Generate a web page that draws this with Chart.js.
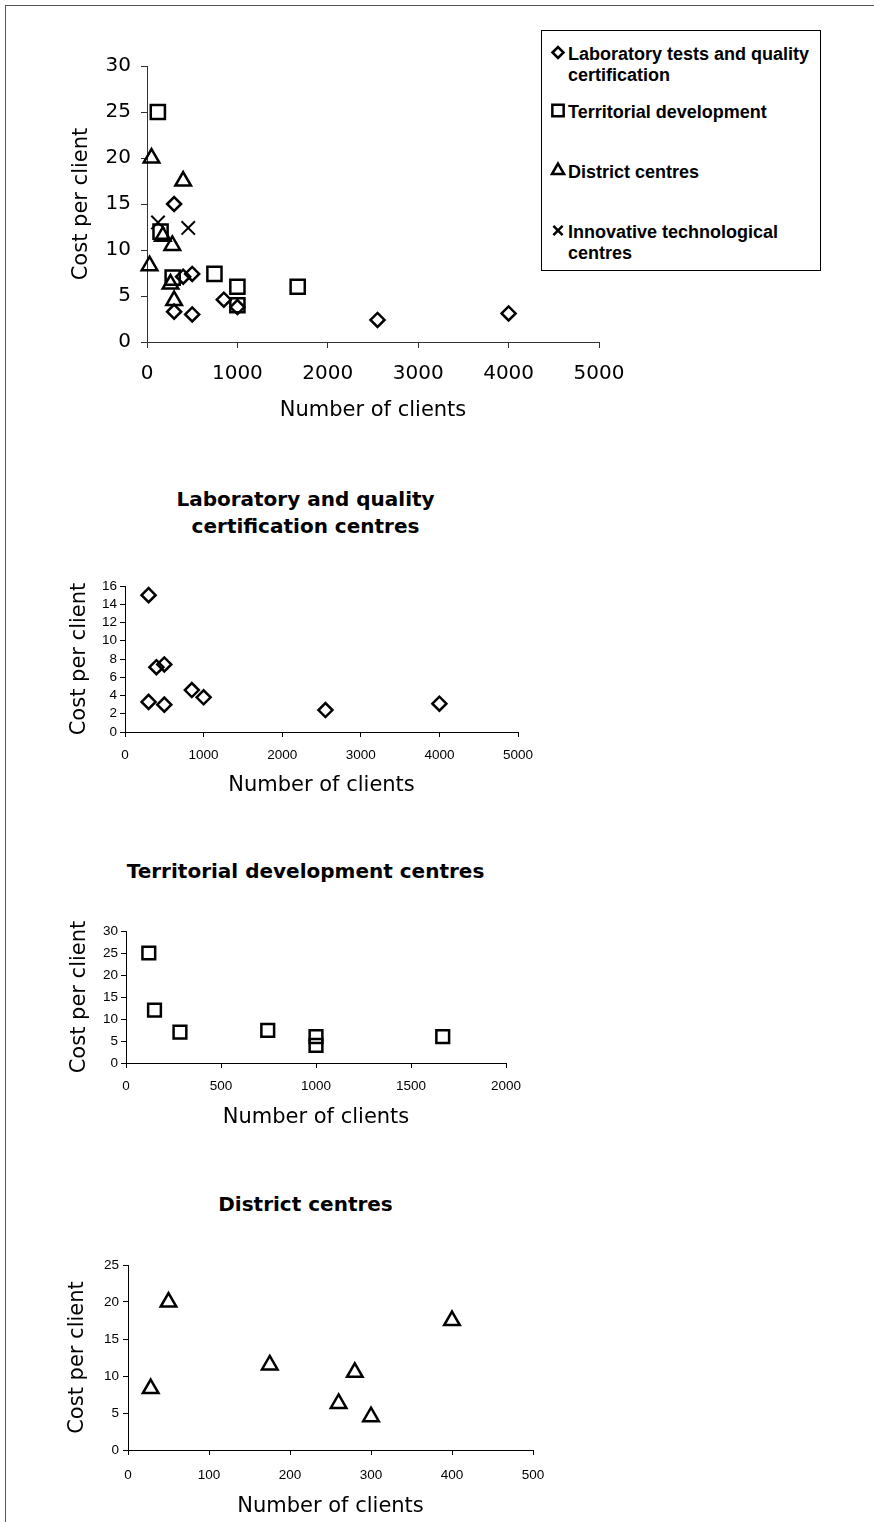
<!DOCTYPE html>
<html lang="en">
<head>
<meta charset="UTF-8">
<title>Cost per client by number of clients</title>
<script src="https://cdn.jsdelivr.net/npm/chart.js"></script>
<style>
  body { margin: 0; background: #fff; }
  #page { position: relative; width: 874px; height: 1522px; overflow: hidden; }
  #frame { position: absolute; left: 5px; top: 5px; width: 900px; height: 1600px;
           border-left: 1px solid #555; border-top: 1px solid #555; }
  .wrap { position: absolute; }
  .title { position: absolute; left: 100px; width: 411px; text-align: center;
           font: bold 20px "DejaVu Sans", sans-serif; line-height: 27px; color: #000; }
  #legend { position: absolute; left: 541px; top: 30px; width: 280px; height: 241px;
            border: 1px solid #000; box-sizing: border-box; background: #fff; }
  .entry { position: absolute; left: 0; width: 275px; font: bold 18px "Liberation Sans", Arial, sans-serif;
           line-height: 21px; color: #000; white-space: pre-line; }
  .entry canvas { position: absolute; left: 6px; }
  .entry span { position: absolute; left: 26px; top: 0; }
</style>
</head>
<body>
<div id="page">
  <div id="frame"></div>

  <div class="wrap" id="w1"><canvas id="c1"></canvas></div>
  <div id="legend"></div>

  <div class="title" style="top:486px">Laboratory and quality<br>certification centres</div>
  <div class="wrap" id="w2"><canvas id="c2"></canvas></div>

  <div class="title" style="top:858px">Territorial development centres</div>
  <div class="wrap" id="w3"><canvas id="c3"></canvas></div>

  <div class="title" style="top:1191px">District centres</div>
  <div class="wrap" id="w4"><canvas id="c4"></canvas></div>
</div>

<script>
// series names (legend text, line breaks as in the original)
const seriesNames = [
  'Laboratory tests and quality\ncertification',
  'Territorial development',
  'District centres',
  'Innovative technological\ncentres'
];

// Laboratory tests and quality certification
const labX = [300, 400, 500, 300, 500, 850, 1000, 2550, 4000];
const labY = [15, 7.1, 7.4, 3.3, 3.0, 4.6, 3.8, 2.4, 3.1];

// Territorial development
const terX = [120, 150, 284, 746, 1000, 1000, 1667];
const terY = [25, 12, 7, 7.4, 6, 4, 6];

// District centres
const disX = [28, 50, 175, 260, 280, 300, 400];
const disY = [8.3, 20, 11.5, 6.3, 10.5, 4.5, 17.5];

// Innovative technological centres
const innX = [122, 456];
const innY = [13, 12.4];

const xTitle = 'Number of clients';
const yTitleText = 'Cost per client';

const pts = (xs, ys) => xs.map((x, i) => ({ x: x, y: ys[i] }));

const styles = [
  { pointStyle: 'rectRot', radius: 7 },
  { pointStyle: 'rect', radius: 10 },
  { pointStyle: 'triangle', radius: 9 },
  { pointStyle: 'crossRot', radius: 9.5 }
];

function ds(i, data, radius) {
  return {
    label: seriesNames[i].replace('\n', ' '),
    data: data,
    pointStyle: styles[i].pointStyle,
    pointRadius: radius || styles[i].radius,
    pointBorderColor: '#000',
    pointBackgroundColor: 'rgba(0,0,0,0)',
    pointBorderWidth: i === 3 ? 2 : 2.5,
    showLine: false,
    clip: false
  };
}

// rotated y-axis title, drawn without being squeezed to the axis height
const yTitlePlugin = {
  id: 'yTitle',
  afterDraw(chart, args, opts) {
    const { ctx, chartArea } = chart;
    ctx.save();
    ctx.translate(opts.x, (chartArea.top + chartArea.bottom) / 2);
    ctx.rotate(-Math.PI / 2);
    ctx.font = opts.font;
    ctx.fillStyle = '#000';
    ctx.textAlign = 'center';
    ctx.textBaseline = 'middle';
    ctx.fillText(opts.text, 0, 0);
    ctx.restore();
  }
};

const plain = v => String(v);

function makeChart(n, datasets, o) {
  const c = o.canvas, p = o.plot;
  const wrap = document.getElementById('w' + n);
  wrap.style.left = c.left + 'px';
  wrap.style.top = c.top + 'px';
  const el = document.getElementById('c' + n);
  el.width = c.width;
  el.height = c.height;

  return new Chart(el, {
    type: 'scatter',
    data: { datasets: datasets },
    plugins: [yTitlePlugin],
    options: {
      responsive: false,
      animation: false,
      layout: { padding: { left: 0, top: p.top - c.top, right: c.left + c.width - p.right, bottom: 0 } },
      plugins: {
        legend: { display: false },
        tooltip: { enabled: false },
        yTitle: { text: yTitleText, x: o.yTitleX, font: '21px "DejaVu Sans"' }
      },
      scales: {
        x: {
          type: 'linear', min: 0, max: o.xMax,
          ticks: { stepSize: o.xStep, color: '#000', font: o.tickFont, padding: o.xTickPad,
                   maxRotation: 0, autoSkip: false, callback: plain },
          grid: { drawOnChartArea: false, tickLength: o.tickLen, color: o.axisColor },
          border: { color: o.axisColor },
          title: { display: true, text: xTitle, color: '#000',
                   font: { family: 'DejaVu Sans', size: 21 }, padding: { top: 0, bottom: o.xTitlePad } },
          afterFit: s => { s.height = c.top + c.height - p.bottom; }
        },
        y: {
          type: 'linear', min: 0, max: o.yMax,
          ticks: { stepSize: o.yStep, color: '#000', font: o.tickFont, padding: o.yTickPad,
                   autoSkip: false, callback: plain },
          grid: { drawOnChartArea: false, tickLength: o.tickLen, color: o.axisColor },
          border: { color: o.axisColor },
          afterFit: s => { s.width = p.left - c.left; }
        }
      }
    }
  });
}

const bigFont = { family: 'DejaVu Sans', size: 20 };
const smallFont = { family: 'Liberation Sans', size: 13.5 };

// all centres together
makeChart(1, [ds(0, pts(labX, labY)), ds(1, pts(terX, terY)), ds(2, pts(disX, disY)), ds(3, pts(innX, innY))], {
  canvas: { left: 0, top: 0, width: 640, height: 440 },
  plot: { left: 147, top: 66, right: 599, bottom: 342 },
  xMax: 5000, xStep: 1000, yMax: 30, yStep: 5,
  tickFont: bigFont, tickLen: 6, xTickPad: 14, yTickPad: 10,
  xTitlePad: 17, yTitleX: 82, axisColor: '#333'
});

// laboratory and quality certification centres
makeChart(2, [ds(0, pts(labX, labY), 7)], {
  canvas: { left: 0, top: 560, width: 560, height: 240 },
  plot: { left: 125, top: 586, right: 518, bottom: 732 },
  xMax: 5000, xStep: 1000, yMax: 16, yStep: 2,
  tickFont: smallFont, tickLen: 5, xTickPad: 10, yTickPad: 3,
  xTitlePad: 2, yTitleX: 80, axisColor: '#000'
});

// territorial development centres
makeChart(3, [ds(1, pts(terX, terY), 9)], {
  canvas: { left: 0, top: 900, width: 560, height: 240 },
  plot: { left: 126, top: 931, right: 506, bottom: 1063 },
  xMax: 2000, xStep: 500, yMax: 30, yStep: 5,
  tickFont: smallFont, tickLen: 5, xTickPad: 10, yTickPad: 3,
  xTitlePad: 10, yTitleX: 80, axisColor: '#000'
});

// district centres
makeChart(4, [ds(2, pts(disX, disY), 9)], {
  canvas: { left: 0, top: 1240, width: 570, height: 282 },
  plot: { left: 128, top: 1265, right: 533, bottom: 1450 },
  xMax: 500, xStep: 100, yMax: 25, yStep: 5,
  tickFont: smallFont, tickLen: 5, xTickPad: 12, yTickPad: 4,
  xTitlePad: 3, yTitleX: 78, axisColor: '#000'
});

// legend for the first chart, markers drawn with Chart.js' own point helper
const legend = document.getElementById('legend');
const entryTops = [13, 71, 131, 191];
const legendRadius = [5.5, 8, 7, 6.5];
seriesNames.forEach((name, i) => {
  const row = document.createElement('div');
  row.className = 'entry';
  row.style.top = entryTops[i] + 'px';
  const cv = document.createElement('canvas');
  cv.width = 20; cv.height = 20;
  cv.style.top = '-1px';
  const span = document.createElement('span');
  span.textContent = name;
  row.appendChild(cv);
  row.appendChild(span);
  legend.appendChild(row);
  const ctx = cv.getContext('2d');
  ctx.strokeStyle = '#000';
  ctx.fillStyle = 'rgba(0,0,0,0)';
  ctx.lineWidth = 2.5;
  Chart.helpers.drawPoint(ctx, { pointStyle: styles[i].pointStyle, radius: legendRadius[i], rotation: 0, borderWidth: 2.5 }, 10, 9.5);
});
</script>
</body>
</html>
